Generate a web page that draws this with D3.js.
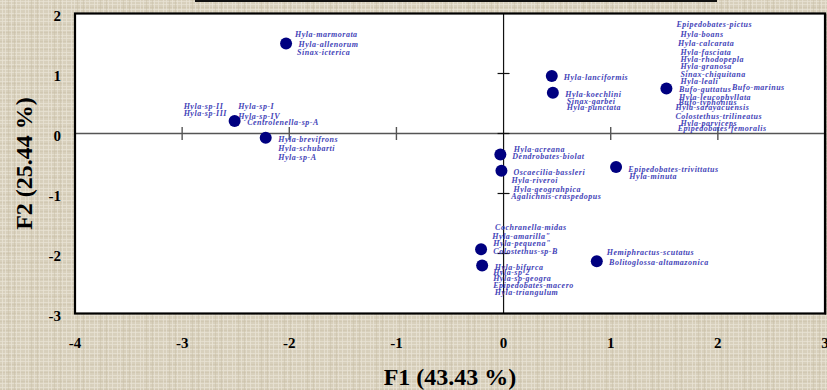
<!DOCTYPE html>
<html>
<head>
<meta charset="utf-8">
<script src="https://cdn.jsdelivr.net/npm/d3@7"></script>
<style>
  html, body { margin: 0; padding: 0; background: #dbd3bf; }
  svg { display: block; }
</style>
</head>
<body>
<div id="chart"></div>
<script>
// Factor scores of each species group on the first two factors
const groupF1 = [-2.03, -2.51, -2.22, 0.45, 0.46, 1.52, -0.03, -0.02, 1.05, -0.21, -0.20, 0.87];
const groupF2 = [1.50, 0.21, -0.07, 0.96, 0.68, 0.75, -0.35, -0.62, -0.56, -1.93, -2.20, -2.13];

// Species sharing each factor position
const groupSpecies = [
  ["Hyla-marmorata", "Hyla-allenorum", "Sinax-icterica"],
  ["Hyla-sp-II", "Hyla-sp-III", "Hyla-sp-I", "Hyla-sp-IV", "Centrolenella-sp-A"],
  ["Hyla-brevifrons", "Hyla-schubarti", "Hyla-sp-A"],
  ["Hyla-lanciformis"],
  ["Hyla-koechlini", "Sinax-garbei", "Hyla-punctata"],
  ["Epipedobates-pictus", "Hyla-boans", "Hyla-calcarata", "Hyla-fasciata", "Hyla-rhodopepla",
   "Hyla-granosa", "Sinax-chiquitana", "Hyla-leali", "Bufo-guttatus", "Bufo-marinus",
   "Hyla-leucophyllata", "Bufo-typhonius", "Hyla-sarayacuensis", "Colostethus-trilineatus",
   "Hyla-parviceps", "Epipedobates-femoralis"],
  ["Hyla-acreana", "Dendrobates-biolat"],
  ["Oscaecilia-bassleri", "Hyla-riveroi", "Hyla-geograhpica", "Agalichnis-craspedopus"],
  ["Epipedobates-trivittatus", "Hyla-minuta"],
  ["Cochranella-midas", "Hyla-amarilla\"", "Hyla-pequena\"", "Colostethus-sp-B"],
  ["Hyla-bifurca", "Hyla-sp-2", "Hyla-sp-geogra", "Epipedobates-macero", "Hyla-triangulum"],
  ["Hemiphractus-scutatus", "Bolitoglossa-altamazonica"]
];

const xTicks = [-4, -3, -2, -1, 0, 1, 2, 3];
const yTicks = [-3, -2, -1, 0, 1, 2];
const xTitle = "F1 (43.43 %)";
const yTitle = "F2 (25.44 %)";

// Label placement: pixel offsets [dx, dy] of each label from its group's marker
const labelOffsets = [
  [[9, -9], [12.5, 1], [11, 9]],
  [[-51, -15], [-51, -7.5], [3.5, -15], [3.5, -5], [12.5, 1.5]],
  [[12.5, 1.5], [12.5, 10.5], [12.5, 19.3]],
  [[12, 1]],
  [[12.3, 1.5], [14, 8.6], [14, 14.6]],
  [[10, -64], [14, -54], [11.6, -45.6], [14, -36.6], [14, -29], [14, -22], [14, -14],
   [14, -7.3], [12.6, 0.7], [65.6, -1.6], [12.6, 9], [12, 14], [9, 19], [9, 28],
   [14, 34.4], [11.3, 40]],
  [[13.3, -5.7], [12, 1.3]],
  [[12, 1], [10, 9], [12, 18], [9.7, 25.6]],
  [[12.3, 1.6], [13.3, 8.6]],
  [[14, -21.7], [11.3, -13], [12.3, -5.7], [12.3, 1.7]],
  [[12.7, 1.7], [11, 6.7], [11, 12.7], [11, 19.7], [12.7, 26.3]],
  [[10, -9], [12.3, 1]]
];

const W = 827, H = 390;
const plot = { left: 75, right: 825, top: 13.5, bottom: 313.5 };

const svg = d3.select("#chart").append("svg")
  .attr("width", W).attr("height", H);

// Woven linen backdrop: an irregular thread tile plus fine grain
const defs = svg.append("defs");
const tileW = 23, tileH = 17;
const pat = defs.append("pattern")
  .attr("id", "linen").attr("patternUnits", "userSpaceOnUse")
  .attr("width", tileW).attr("height", tileH);
pat.append("rect").attr("width", tileW).attr("height", tileH).attr("fill", "#dad2be");
const lightRows = [1, 4, 9, 13], darkRows = [7, 15];
const lightCols = [2, 5, 11, 16, 20], darkCols = [8, 14];
lightRows.forEach(r => pat.append("rect").attr("x", 0).attr("y", r).attr("width", tileW).attr("height", 1)
  .attr("fill", "#ebe5d6").attr("opacity", 0.75));
darkRows.forEach(r => pat.append("rect").attr("x", 0).attr("y", r).attr("width", tileW).attr("height", 1)
  .attr("fill", "#cbc1aa").attr("opacity", 0.5));
lightCols.forEach(c => pat.append("rect").attr("x", c).attr("y", 0).attr("width", 1).attr("height", tileH)
  .attr("fill", "#ede8da").attr("opacity", 0.7));
darkCols.forEach(c => pat.append("rect").attr("x", c).attr("y", 0).attr("width", 1).attr("height", tileH)
  .attr("fill", "#c9bfa7").attr("opacity", 0.45));

const grain = defs.append("filter").attr("id", "grain")
  .attr("x", 0).attr("y", 0).attr("width", "100%").attr("height", "100%");
grain.append("feTurbulence").attr("type", "fractalNoise")
  .attr("baseFrequency", "0.8 0.3").attr("numOctaves", 2).attr("seed", 4).attr("result", "n");
grain.append("feColorMatrix").attr("in", "n").attr("type", "matrix")
  .attr("values", "0 0 0 0 0.5  0 0 0 0 0.45  0 0 0 0 0.36  0 0 0 0.14 0");

svg.append("rect").attr("width", W).attr("height", H).attr("fill", "url(#linen)");
svg.append("rect").attr("width", W).attr("height", H).attr("filter", "url(#grain)");

// Edge of the title box above the plot
svg.append("rect").attr("x", 195).attr("y", 0).attr("width", 522).attr("height", 2).attr("fill", "#111");

const x = d3.scaleLinear().domain([-4, 3]).range([plot.left, plot.right]);
const y = d3.scaleLinear().domain([-3, 2]).range([plot.bottom, plot.top]);

// Plot area
svg.append("rect")
  .attr("x", plot.left).attr("y", plot.top)
  .attr("width", plot.right - plot.left).attr("height", plot.bottom - plot.top)
  .attr("fill", "#fff");

// Zero axes through the origin with their own tick marks
const g = svg.append("g");
g.append("line")
  .attr("x1", plot.left).attr("x2", plot.right)
  .attr("y1", y(0)).attr("y2", y(0))
  .attr("stroke", "#555").attr("stroke-width", 1.4);
g.append("line")
  .attr("x1", x(0)).attr("x2", x(0))
  .attr("y1", plot.top).attr("y2", plot.bottom)
  .attr("stroke", "#111").attr("stroke-width", 1.2);

g.selectAll("line.xt").data(xTicks.filter(t => t > -4 && t < 3 && t !== 0)).join("line")
  .attr("class", "xt")
  .attr("x1", d => x(d)).attr("x2", d => x(d))
  .attr("y1", y(0) - 6.5).attr("y2", y(0) + 6.5)
  .attr("stroke", "#555").attr("stroke-width", 1.4);
g.selectAll("line.yt").data(yTicks.filter(t => t > -3 && t < 2)).join("line")
  .attr("class", "yt")
  .attr("x1", x(0) - 6).attr("x2", x(0) + 6)
  .attr("y1", d => y(d)).attr("y2", d => y(d))
  .attr("stroke", "#111").attr("stroke-width", 1.2);

// Frame
svg.append("rect")
  .attr("x", plot.left).attr("y", plot.top)
  .attr("width", plot.right - plot.left).attr("height", plot.bottom - plot.top)
  .attr("fill", "none").attr("stroke", "#000").attr("stroke-width", 2.2);
svg.append("line")
  .attr("x1", plot.right + 0.5).attr("x2", plot.right + 0.5)
  .attr("y1", plot.top).attr("y2", plot.bottom + 1)
  .attr("stroke", "#000").attr("stroke-width", 1.5);

// Tick labels
const tickFont = "'Liberation Serif', 'Times New Roman', serif";
svg.append("g").selectAll("text").data(xTicks).join("text")
  .attr("x", d => x(d)).attr("y", 348)
  .attr("text-anchor", "middle")
  .attr("font-family", tickFont).attr("font-weight", "bold").attr("font-size", 15)
  .attr("fill", "#000")
  .text(d => d);
svg.append("g").selectAll("text").data(yTicks).join("text")
  .attr("x", 61).attr("y", d => y(d) + 2)
  .attr("dy", "0.35em")
  .attr("text-anchor", "end")
  .attr("font-family", tickFont).attr("font-weight", "bold").attr("font-size", 15)
  .attr("fill", "#000")
  .text(d => d);

// Axis titles
svg.append("text")
  .attr("x", (plot.left + plot.right) / 2).attr("y", 385)
  .attr("text-anchor", "middle")
  .attr("font-family", tickFont).attr("font-weight", "bold").attr("font-size", 24)
  .text(xTitle);
svg.append("text")
  .attr("transform", `translate(32, ${(plot.top + plot.bottom) / 2}) rotate(-90)`)
  .attr("text-anchor", "middle")
  .attr("font-family", tickFont).attr("font-weight", "bold").attr("font-size", 24)
  .text(yTitle);

// Markers and species labels
const groups = groupF1.map((f1, i) => ({
  f1, f2: groupF2[i], species: groupSpecies[i], offsets: labelOffsets[i]
}));

const labelLayer = svg.append("g")
  .attr("font-family", tickFont).attr("font-style", "italic").attr("font-weight", "bold")
  .attr("font-size", 8).attr("letter-spacing", 0.5).attr("fill", "#4444b8");

groups.forEach(grp => {
  grp.species.forEach((name, j) => {
    const [dx, dy] = grp.offsets[j];
    labelLayer.append("text")
      .attr("x", x(grp.f1) + dx).attr("y", y(grp.f2) + dy)
      .attr("dy", "0.35em")
      .text(name);
  });
});

svg.append("g").selectAll("circle").data(groups).join("circle")
  .attr("cx", d => x(d.f1)).attr("cy", d => y(d.f2))
  .attr("r", 6).attr("fill", "#000080");
</script>
</body>
</html>
